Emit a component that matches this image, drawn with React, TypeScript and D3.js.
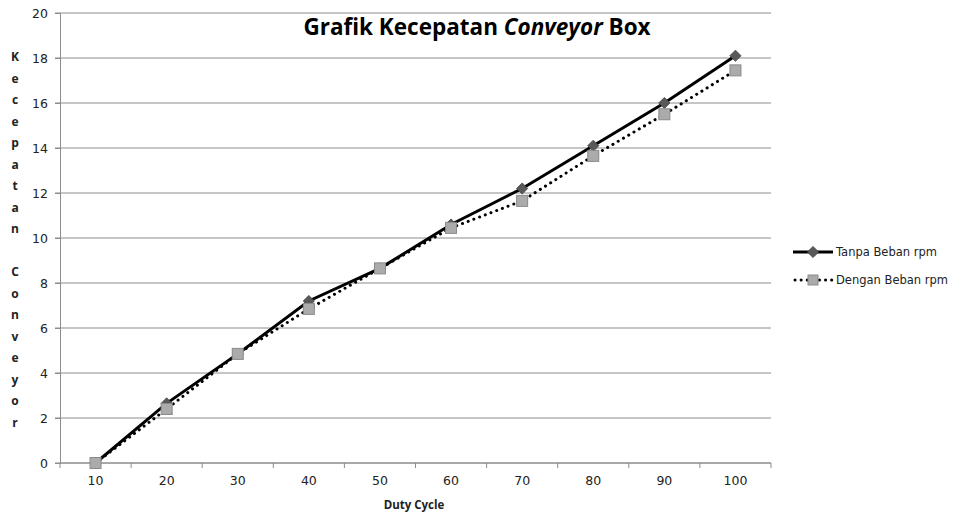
import React, { useRef, useEffect } from "react";
import * as d3 from "d3";

const categories = ["10", "20", "30", "40", "50", "60", "70", "80", "90", "100"];
const tanpaBeban = [0, 2.65, 4.85, 7.2, 8.65, 10.6, 12.2, 14.1, 16.0, 18.1];
const denganBeban = [0, 2.4, 4.85, 6.85, 8.65, 10.45, 11.65, 13.65, 15.5, 17.45];
const yTicks = [0, 2, 4, 6, 8, 10, 12, 14, 16, 18, 20];
const yTitle = "Kecepatan Conveyor";

const W = 955;
const H = 513;

const App = () => {
  const svgRef = useRef<SVGSVGElement>(null);

  useEffect(() => {
    const svg = d3.select(svgRef.current);
    svg.selectAll("*").remove();

    const left = 60, right = 771, top = 13, bottom = 463;

    const x = d3.scaleBand().domain(categories).range([left, right]);
    const y = d3.scaleLinear().domain([0, 20]).range([bottom, top]);
    const font = "Tahoma, 'DejaVu Sans', sans-serif";

    // gridlines
    svg.append("g")
      .selectAll("line")
      .data(yTicks)
      .join("line")
      .attr("x1", left - 5)
      .attr("x2", right)
      .attr("y1", (d) => y(d))
      .attr("y2", (d) => y(d))
      .attr("stroke", "#8c8c8c")
      .attr("stroke-width", 1);

    // y axis
    const yAxis = svg.append("g")
      .attr("transform", `translate(${left},0)`)
      .call(d3.axisLeft(y).tickValues(yTicks).tickSize(5).tickPadding(7));
    yAxis.select(".domain").attr("stroke", "#8c8c8c");
    yAxis.selectAll(".tick line").attr("stroke", "#8c8c8c");
    yAxis.selectAll("text").attr("font-family", font).attr("font-size", 12.5).attr("fill", "#222");

    // x axis, ticks between categories
    const xAxisG = svg.append("g").attr("transform", `translate(0,${bottom})`);
    xAxisG.append("line")
      .attr("x1", left).attr("x2", right)
      .attr("stroke", "#8c8c8c");
    const bounds = [...categories.map((c) => x(c) as number), right];
    xAxisG.selectAll("line.tk")
      .data(bounds)
      .join("line")
      .attr("class", "tk")
      .attr("x1", (d) => d).attr("x2", (d) => d)
      .attr("y1", 0).attr("y2", 5)
      .attr("stroke", "#8c8c8c");
    xAxisG.selectAll("text")
      .data(categories)
      .join("text")
      .attr("x", (d) => (x(d) as number) + x.bandwidth() / 2)
      .attr("y", 22)
      .attr("text-anchor", "middle")
      .attr("font-family", font)
      .attr("font-size", 12.5)
      .attr("fill", "#222")
      .text((d) => d);

    const cx = (i: number) => (x(categories[i]) as number) + x.bandwidth() / 2;

    const line = d3.line<number>()
      .x((d, i) => cx(i))
      .y((d) => y(d));

    // dengan beban (dotted)
    svg.append("path")
      .datum(denganBeban)
      .attr("d", line)
      .attr("fill", "none")
      .attr("stroke", "#000")
      .attr("stroke-width", 3)
      .attr("stroke-dasharray", "0.1 6")
      .attr("stroke-linecap", "round");

    // tanpa beban (solid)
    svg.append("path")
      .datum(tanpaBeban)
      .attr("d", line)
      .attr("fill", "none")
      .attr("stroke", "#000")
      .attr("stroke-width", 3);

    const diamond = d3.symbol().type(d3.symbolDiamond2).size(80);

    svg.append("g")
      .selectAll("path")
      .data(tanpaBeban)
      .join("path")
      .attr("d", diamond)
      .attr("transform", (d, i) => `translate(${cx(i)},${y(d)})`)
      .attr("fill", "#595959")
      .attr("stroke", "#404040")
      .attr("stroke-width", 0.8);

    svg.append("g")
      .selectAll("rect")
      .data(denganBeban)
      .join("rect")
      .attr("x", (d, i) => cx(i) - 5.5)
      .attr("y", (d) => y(d) - 5.5)
      .attr("width", 11)
      .attr("height", 11)
      .attr("fill", "#ababab")
      .attr("stroke", "#8a8a8a")
      .attr("stroke-width", 1);

    // title
    const title = svg.append("text")
      .attr("x", 477)
      .attr("y", 35)
      .attr("text-anchor", "middle")
      .attr("font-family", "'Open Sans', sans-serif")
      .attr("font-weight", "bold")
      .attr("font-size", 22.5)
      .attr("fill", "#000");
    title.append("tspan").text("Grafik Kecepatan ");
    title.append("tspan").attr("font-style", "italic").text("Conveyor");
    title.append("tspan").text(" Box");

    // x title
    svg.append("text")
      .attr("x", 414)
      .attr("y", 509)
      .attr("text-anchor", "middle")
      .attr("font-family", "'Open Sans', sans-serif")
      .attr("font-weight", "bold")
      .attr("font-size", 11.5)
      .attr("fill", "#222")
      .text("Duty Cycle");

    // y title, stacked letters
    svg.append("g")
      .selectAll("text")
      .data(yTitle.split(""))
      .join("text")
      .attr("x", 15)
      .attr("y", (d, i) => 61 + i * 21.5)
      .attr("text-anchor", "middle")
      .attr("font-family", "'Open Sans', sans-serif")
      .attr("font-weight", "bold")
      .attr("font-size", 12)
      .attr("fill", "#222")
      .text((d) => d);

    // legend
    const legend = svg.append("g");
    const lg1 = legend.append("g").attr("transform", "translate(793,252)");
    lg1.append("line").attr("x1", 0).attr("x2", 40).attr("stroke", "#000").attr("stroke-width", 3);
    lg1.append("path").attr("d", diamond).attr("transform", "translate(20,0)")
      .attr("fill", "#595959").attr("stroke", "#404040").attr("stroke-width", 0.8);
    lg1.append("text").attr("x", 43).attr("y", 4)
      .attr("font-family", font).attr("font-size", 11.5).attr("fill", "#222")
      .text("Tanpa Beban rpm");

    const lg2 = legend.append("g").attr("transform", "translate(793,280)");
    lg2.append("line").attr("x1", 2).attr("x2", 40).attr("stroke", "#000").attr("stroke-width", 3)
      .attr("stroke-dasharray", "0.1 6").attr("stroke-linecap", "round");
    lg2.append("rect").attr("x", 15).attr("y", -5).attr("width", 10).attr("height", 10)
      .attr("fill", "#ababab").attr("stroke", "#8a8a8a");
    lg2.append("text").attr("x", 43).attr("y", 4)
      .attr("font-family", font).attr("font-size", 11.5).attr("fill", "#222")
      .text("Dengan Beban rpm");
  }, []);

  return (
    <svg ref={svgRef} width={W} height={H} style={{ display: "block", position: "absolute", left: 0, top: 0, background: "#fff" }} />
  );
};

export default App;
